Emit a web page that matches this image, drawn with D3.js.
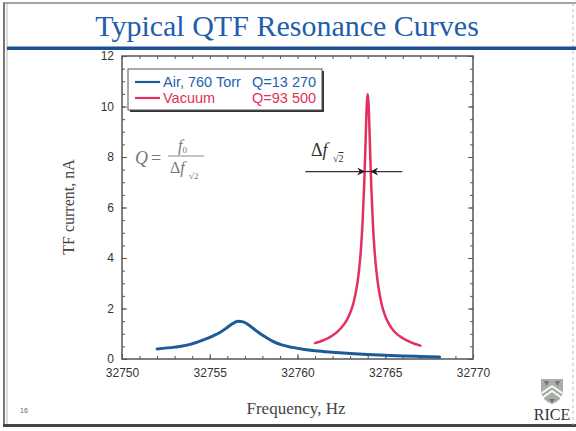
<!DOCTYPE html>
<html><head><meta charset="utf-8">
<script src="https://cdn.jsdelivr.net/npm/d3@7"></script>
<style>body{margin:0;background:#fff;}svg{display:block;}</style>
</head><body>
<svg id="c" width="576" height="431"></svg>
<script>
// ---- data ----
const airFreq = [32752.0, 32753.0, 32753.7, 32754.6, 32755.2, 32755.6, 32756.0, 32756.3, 32756.6, 32756.9, 32757.2, 32757.5, 32757.8, 32758.2, 32758.6, 32759.1, 32759.7, 32760.3, 32761.0, 32762.0, 32763.0, 32764.0, 32765.0, 32766.0, 32767.0, 32768.1];
const airCurrent = [0.40, 0.47, 0.55, 0.75, 0.92, 1.06, 1.25, 1.40, 1.50, 1.47, 1.36, 1.20, 1.04, 0.86, 0.70, 0.56, 0.46, 0.39, 0.33, 0.27, 0.22, 0.18, 0.15, 0.12, 0.10, 0.08];
const vacFreq = [32761.0, 32761.5, 32762.0, 32762.5, 32762.8, 32763.0, 32763.2, 32763.4, 32763.5, 32763.6, 32763.7, 32763.8, 32763.85, 32763.9, 32763.95, 32764.0, 32764.05, 32764.1, 32764.15, 32764.2, 32764.3, 32764.4, 32764.5, 32764.6, 32764.8, 32765.0, 32765.2, 32765.5, 32766.0, 32766.5, 32767.0];
const vacCurrent = [0.63, 0.75, 0.93, 1.24, 1.53, 1.82, 2.25, 2.95, 3.48, 4.22, 5.3, 6.9, 7.95, 9.1, 10.1, 10.5, 10.1, 9.1, 7.95, 6.9, 5.3, 4.2, 3.45, 2.9, 2.15, 1.7, 1.4, 1.1, 0.82, 0.65, 0.53];
const seriesNames = ["Air, 760 Torr", "Vacuum"];
const seriesQ = ["Q=13 270", "Q=93 500"];
const xTicks = [32750, 32755, 32760, 32765, 32770];
const yTicks = [0, 2, 4, 6, 8, 10, 12];
const halfPowerLevel = 10.5 / Math.SQRT2;
const arrowLeft = [32760.45, 32763.86];
const arrowRight = [32765.97, 32764.14];

// ---- layout ----
const svg = d3.select("#c");
const L = 122, R = 473, T = 56, B = 359;
const x = d3.scaleLinear().domain([32750, 32770]).range([L, R]);
const y = d3.scaleLinear().domain([0, 12]).range([B, T]);
const blue = "#1c5a98", red = "#e4305f";

// slide frame
svg.append("line").attr("x1",4).attr("x2",4).attr("y1",2).attr("y2",427).attr("stroke","#777").attr("stroke-width",2);
svg.append("line").attr("x1",7).attr("x2",7).attr("y1",2).attr("y2",425).attr("stroke","#bbb").attr("stroke-width",1);
svg.append("line").attr("x1",3).attr("x2",576).attr("y1",425.5).attr("y2",425.5).attr("stroke","#444").attr("stroke-width",3);
svg.append("line").attr("x1",3).attr("x2",576).attr("y1",3).attr("y2",3).attr("stroke","#888").attr("stroke-width",1.5);
svg.append("line").attr("x1",573).attr("x2",573).attr("y1",3).attr("y2",425).attr("stroke","#bbb").attr("stroke-width",1).attr("stroke-dasharray","3,3");

// title
svg.append("text").attr("x",287).attr("y",36).attr("text-anchor","middle")
  .attr("font-family","Liberation Serif, Times New Roman, serif").attr("font-size",30)
  .attr("fill","#1f5eaa").text("Typical QTF Resonance Curves");
svg.append("rect").attr("x",7).attr("y",46.5).attr("width",569).attr("height",3.5).attr("fill","#1b4f98");

// axes
const tickFont = "Liberation Sans, Arial, sans-serif";
const axColor = "#555";
const minorX = d3.range(32750, 32771, 1);
const minorY = d3.range(0, 12.01, 0.5);
const axB = svg.append("g").attr("transform",`translate(0,${B})`)
  .call(d3.axisBottom(x).tickValues(minorX).tickSize(-3).tickFormat(""));
const axT = svg.append("g").attr("transform",`translate(0,${T})`)
  .call(d3.axisTop(x).tickValues(minorX).tickSize(-3).tickFormat(""));
const axL = svg.append("g").attr("transform",`translate(${L},0)`)
  .call(d3.axisLeft(y).tickValues(minorY).tickSize(-3).tickFormat(""));
const axR = svg.append("g").attr("transform",`translate(${R},0)`)
  .call(d3.axisRight(y).tickValues(minorY).tickSize(-3).tickFormat(""));
const axBL = svg.append("g").attr("transform",`translate(0,${B})`)
  .call(d3.axisBottom(x).tickValues(xTicks).tickSize(-5).tickPadding(9).tickFormat(d3.format("d")));
const axLL = svg.append("g").attr("transform",`translate(${L},0)`)
  .call(d3.axisLeft(y).tickValues(yTicks).tickSize(-5).tickPadding(8).tickFormat(d3.format("d")));
const axRL = svg.append("g").attr("transform",`translate(${R},0)`)
  .call(d3.axisRight(y).tickValues(yTicks).tickSize(-5).tickFormat(""));
[axB,axT,axL,axR,axBL,axLL,axRL].forEach(g=>{
  g.select(".domain").remove();
  g.selectAll("line").attr("stroke",axColor).attr("stroke-width",1);
  g.selectAll("text").attr("font-family",tickFont).attr("font-size",12).attr("fill","#333");
});
svg.append("rect").attr("x",L).attr("y",T).attr("width",R-L).attr("height",B-T)
  .attr("fill","none").attr("stroke",axColor).attr("stroke-width",1.5);

// curves
const line = d3.line().x(d=>x(d[0])).y(d=>y(d[1])).curve(d3.curveMonotoneX);
svg.append("path").datum(airFreq.map((f,i)=>[f,airCurrent[i]]))
  .attr("d",line).attr("fill","none").attr("stroke",blue).attr("stroke-width",3).attr("stroke-linecap","round");
svg.append("path").datum(vacFreq.map((f,i)=>[f,vacCurrent[i]]))
  .attr("d",line).attr("fill","none").attr("stroke",red).attr("stroke-width",2.5).attr("stroke-linecap","round");

// half-power arrows
const defs = svg.append("defs");
defs.append("marker").attr("id","ah").attr("viewBox","0 0 10 10").attr("refX",10).attr("refY",5)
  .attr("markerWidth",10).attr("markerHeight",8).attr("orient","auto").attr("markerUnits","userSpaceOnUse")
  .append("path").attr("d","M0,0 L10,5 L0,10 L3,5 Z").attr("fill","#222");
[arrowLeft, arrowRight].forEach(a=>{
  svg.append("line").attr("x1",x(a[0])).attr("x2",x(a[1])).attr("y1",y(halfPowerLevel)).attr("y2",y(halfPowerLevel))
    .attr("stroke","#333").attr("stroke-width",1.3).attr("marker-end","url(#ah)");
});
svg.append("line").attr("x1",x(arrowLeft[1])).attr("x2",x(arrowRight[1])).attr("y1",y(halfPowerLevel)).attr("y2",y(halfPowerLevel))
  .attr("stroke","#333").attr("stroke-width",1.3);

// delta f label
const serif = "Liberation Serif, Times New Roman, serif";
const df = svg.append("text").attr("x",311).attr("y",156).attr("font-family",serif).attr("font-size",18).attr("fill","#333");
df.append("tspan").text("Δ");
df.append("tspan").attr("font-style","italic").text("f");
const dfs = svg.append("text").attr("x",333).attr("y",162).attr("font-family",serif).attr("font-size",10).attr("fill","#333");
dfs.append("tspan").text("√");
dfs.append("tspan").attr("text-decoration","overline").text("2");

// formula
const fg = svg.append("g").attr("fill","#777").attr("font-family",serif);
fg.append("text").attr("x",135).attr("y",164).attr("font-size",18).attr("font-style","italic").text("Q");
fg.append("text").attr("x",151).attr("y",164).attr("font-size",18).text("=");
fg.append("line").attr("x1",168).attr("x2",204).attr("y1",156).attr("y2",156).attr("stroke","#888").attr("stroke-width",1);
const num = fg.append("text").attr("x",178).attr("y",151).attr("font-size",16);
num.append("tspan").attr("font-style","italic").text("f");
num.append("tspan").attr("font-size",9).attr("dy",2).text("0");
const den = fg.append("text").attr("x",170).attr("y",173).attr("font-size",16);
den.append("tspan").text("Δ");
den.append("tspan").attr("font-style","italic").text("f");
fg.append("text").attr("x",189).attr("y",179).attr("font-size",9).text("√2");

// legend
const lx = 128, ly = 69, lw = 194, lh = 41;
svg.append("rect").attr("x",lx+2).attr("y",ly+2).attr("width",lw).attr("height",lh).attr("fill","#333");
svg.append("rect").attr("x",lx).attr("y",ly).attr("width",lw).attr("height",lh).attr("fill","#fff").attr("stroke","#555").attr("stroke-width",1);
const legColors = [blue, red], legText = ["#1f62b0", "#e0305a"];
seriesNames.forEach((n,i)=>{
  const yy = ly + 13 + i*16;
  svg.append("line").attr("x1",lx+7).attr("x2",lx+32).attr("y1",yy).attr("y2",yy).attr("stroke",legColors[i]).attr("stroke-width",2.2);
  svg.append("text").attr("x",lx+35).attr("y",yy+5).attr("font-family",tickFont).attr("font-size",14.5).attr("fill",legText[i]).text(n);
  svg.append("text").attr("x",lx+124).attr("y",yy+5).attr("font-family",tickFont).attr("font-size",14.5).attr("fill",legText[i]).text(seriesQ[i]);
});

// axis titles
svg.append("text").attr("transform","translate(74,207) rotate(-90)").attr("text-anchor","middle")
  .attr("font-family",serif).attr("font-size",16).attr("fill","#444").text("TF current, nA");
svg.append("text").attr("x",296).attr("y",414).attr("text-anchor","middle")
  .attr("font-family",serif).attr("font-size",17).attr("fill","#444").text("Frequency, Hz");

// page number
svg.append("text").attr("x",20).attr("y",413).attr("font-family",tickFont).attr("font-size",7).attr("fill","#666").text("16");

// RICE logo
const lg = svg.append("g").attr("transform","translate(540,377)");
lg.append("path").attr("d","M1,2 L23,2 L23,13 Q23,23 12,27 Q1,23 1,13 Z").attr("fill","#a8ada8");
lg.append("path").attr("d","M2,16 L12,9 L22,16 M2,21 L12,14 L22,21").attr("stroke","#fff").attr("stroke-width",1.8).attr("fill","none");
lg.append("path").attr("d","M4,4 L9,4 L6.5,9 Z M15,4 L20,4 L17.5,9 Z M9,22 L15,22 L12,26 Z").attr("fill","#6f746f");
svg.append("text").attr("x",552).attr("y",420).attr("text-anchor","middle").attr("font-family",serif)
  .attr("font-size",16).attr("fill","#333").text("RICE");
</script>
</body></html>
